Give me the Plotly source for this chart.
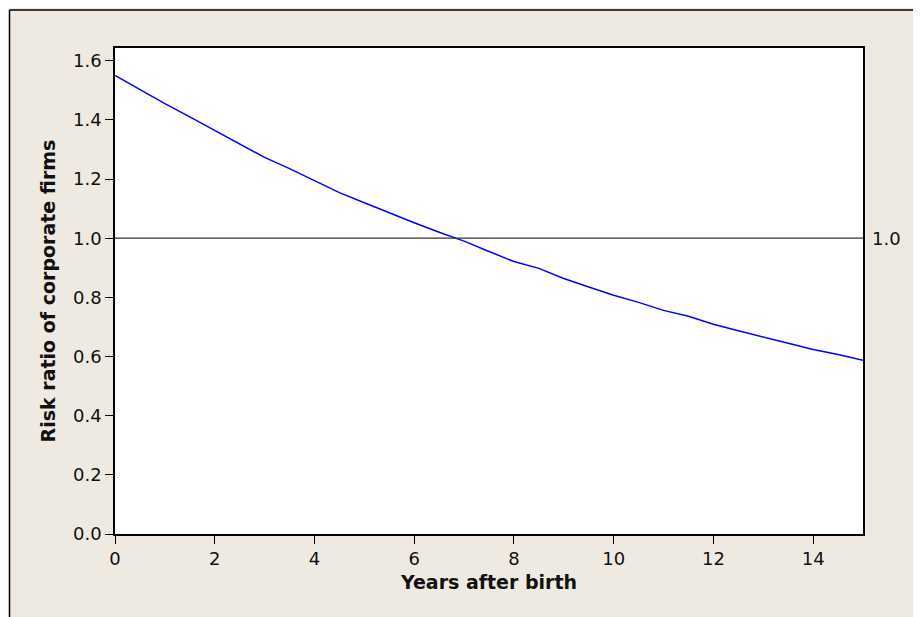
import plotly.graph_objects as go

years = [0, 0.5, 1, 1.5, 2, 2.5, 3, 3.5, 4, 4.5, 5, 5.5, 6, 6.5, 7, 7.5,
         8, 8.5, 9, 9.5, 10, 10.5, 11, 11.5, 12, 12.5, 13, 13.5, 14, 14.5, 15]
risk_ratio = [1.550, 1.502, 1.455, 1.410, 1.365, 1.320, 1.273, 1.235, 1.195, 1.154,
              1.120, 1.085, 1.052, 1.020, 0.990, 0.955, 0.921, 0.898, 0.864, 0.835,
              0.807, 0.783, 0.756, 0.736, 0.709, 0.687, 0.665, 0.645, 0.624, 0.607, 0.587]
ref_value = 1.0
ref_label = "1.0"
x_title = "Years after birth"
y_title = "Risk ratio of corporate firms"

FONT = "DejaVu Sans"
BG = "#EEEAE1"

fig = go.Figure()
fig.add_trace(go.Scatter(x=years, y=risk_ratio, mode="lines",
                         line=dict(color="#0000FF", width=1.5), showlegend=False))
fig.add_trace(go.Scatter(x=[years[0], years[-1]], y=[ref_value, ref_value], mode="lines",
                         line=dict(color="#333333", width=1.3), showlegend=False))

fig.add_annotation(x=1, xref="paper", y=ref_value, yref="y", text=ref_label,
                   showarrow=False, xanchor="left", xshift=7,
                   font=dict(family=FONT, size=18, color="#111111"))

# outer frame (top and left edges)
fig.add_shape(type="line", xref="paper", yref="paper", x0=-0.141, x1=1.3, y0=1.078, y1=1.078,
              line=dict(color="black", width=1.5))
fig.add_shape(type="line", xref="paper", yref="paper", x0=-0.141, x1=-0.141, y0=1.078, y1=-0.4,
              line=dict(color="black", width=1.5))

fig.update_layout(
    width=921, height=617,
    margin=dict(l=107, r=66, t=40, b=91),
    paper_bgcolor=BG, plot_bgcolor="white",
    font=dict(family=FONT, size=18, color="#111111"),
    xaxis=dict(range=[0, 15], dtick=2, tick0=0, showgrid=False, zeroline=False,
               showline=True, linecolor="black", linewidth=1.5, mirror=True,
               ticks="outside", ticklen=8, tickwidth=1.2, tickcolor="black",
               title=dict(text="<b>" + x_title + "</b>", font=dict(size=19), standoff=7)),
    yaxis=dict(range=[0, 1.643], dtick=0.2, tick0=0, tickformat=".1f", showgrid=False,
               zeroline=False, showline=True, linecolor="black", linewidth=1.5, mirror=True,
               ticks="outside", ticklen=8, tickwidth=1.2, tickcolor="black",
               title=dict(text="<b>" + y_title + "</b>", font=dict(size=19), standoff=12)),
)

fig.write_html("out.html")
